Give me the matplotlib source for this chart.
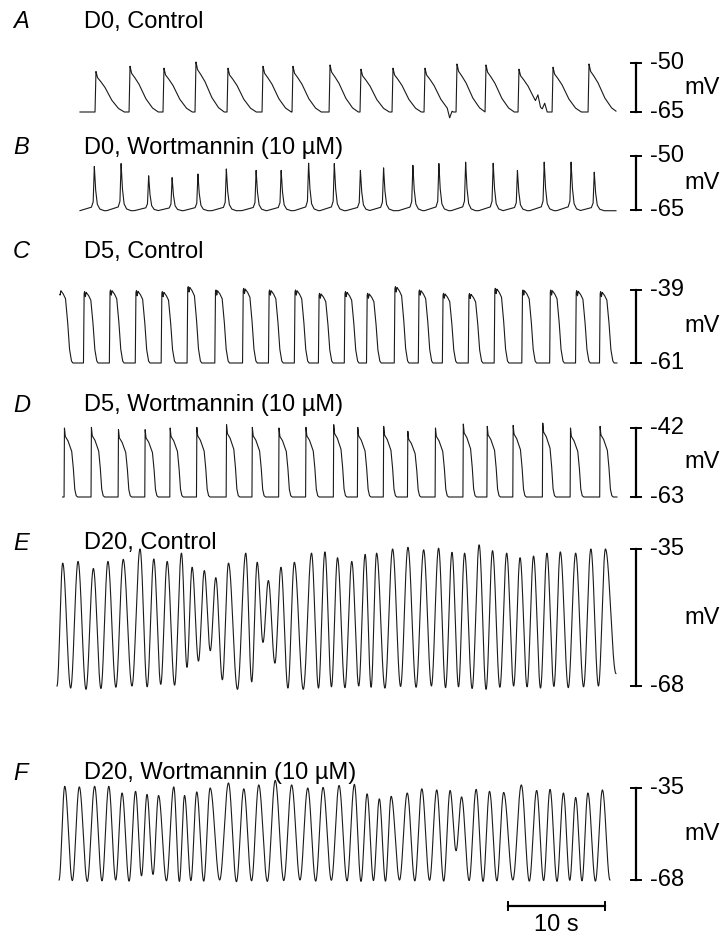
import numpy as np
import matplotlib
matplotlib.use("Agg")
import matplotlib.pyplot as plt

plt.rcParams['font.family'] = ['Liberation Sans', 'DejaVu Sans']

# ---------------- data (times in s, potentials in mV) ----------------
A_peak_t = [4.74, 8.25, 11.75, 15.05, 18.35, 21.96, 25.05, 28.87, 32.06, 35.36,
            38.66, 41.96, 44.95, 48.35, 51.86, 55.57]
A_peak_mv = [-52.6, -51.0, -51.6, -49.7, -51.6, -51.0, -51.0, -50.6, -51.9, -51.6,
             -51.6, -50.3, -50.6, -51.9, -51.3, -50.3]
A_extra_t = [41.2, 50.3, 51.0]
A_extra_mv = [-67.5, -62.3, -62.8]
A_base = -65.0

B_peak_t = [4.57, 7.33, 10.17, 12.59, 15.25, 18.18, 21.25, 23.83, 26.66, 29.31,
            32.00, 34.39, 37.41, 40.09, 42.85, 45.69, 48.19, 50.95, 53.72, 56.11]
B_peak_mv = [-52.9, -52.1, -55.5, -56.0, -55.0, -53.6, -54.0, -54.0, -52.0, -52.1,
             -54.0, -53.3, -52.6, -52.1, -51.7, -52.0, -54.0, -51.7, -51.7, -54.5]
B_base = -65.2

C_up_t = [0.90, 3.51, 6.18, 8.85, 11.52, 14.19, 17.05, 19.91, 22.58, 25.25, 27.73,
          30.40, 32.69, 35.55, 38.03, 40.51, 43.18, 45.85, 48.70, 51.57, 54.24, 56.71]
C_top_mv = [-39.0, -39.5, -39.0, -39.2, -39.5, -38.0, -39.0, -38.5, -39.0, -39.0, -40.0,
            -39.5, -40.0, -38.0, -39.0, -40.0, -40.1, -38.5, -39.0, -39.0, -39.2, -39.5]
C_low = -61.0

D_up_t = [1.49, 4.27, 7.06, 9.81, 12.39, 15.14, 18.20, 20.86, 23.61, 26.39, 29.25,
          31.73, 34.40, 36.89, 39.74, 42.61, 45.08, 47.75, 50.80, 53.66, 56.71]
D_peak_mv = [-42.0, -41.8, -42.5, -42.5, -42.0, -41.8, -41.0, -41.8, -42.0, -41.8, -41.0,
             -41.8, -41.5, -43.0, -42.0, -40.8, -41.5, -41.2, -40.5, -42.0, -41.5]
D_low = -63.0

E_peak_t = [1.31, 2.89, 4.47, 5.97, 7.55, 9.28, 10.70, 12.08, 13.55, 14.65,
            15.91, 17.09, 18.40, 20.18, 21.36, 22.51, 23.81, 25.19, 26.96, 28.34,
            29.64, 31.11, 32.49, 33.67, 35.32, 36.90, 38.52, 40.06, 41.44, 42.74,
            44.24, 45.62, 47.08, 48.46, 49.85, 51.23, 52.61, 54.19, 55.76, 57.26]
E_peak_mv = [-38.4, -38.0, -39.7, -38.0, -37.5, -35.0, -37.4, -38.0, -36.0, -39.4,
             -40.2, -41.9, -38.4, -36.0, -38.2, -42.6, -39.4, -38.2, -36.0, -35.7,
             -37.1, -38.0, -36.3, -36.0, -35.0, -34.6, -35.2, -34.8, -35.8, -36.0,
             -34.0, -35.4, -36.0, -37.1, -36.7, -36.0, -35.7, -36.0, -35.0, -35.0]
E_trough_mv = [-68.5, -68.8, -68.6, -68.3, -68.0, -68.2, -67.6, -67.8, -63.5, -62.0,
               -59.5, -66.5, -68.8, -67.0, -57.5, -62.5, -68.5, -68.8, -68.5, -68.2,
               -68.4, -68.0, -68.3, -68.5, -68.1, -68.3, -68.0, -68.4, -68.2, -68.6,
               -68.8, -68.3, -68.0, -68.2, -68.5, -68.1, -68.4, -68.2, -68.0]

F_peak_t = [1.52, 3.02, 4.60, 6.06, 7.43, 8.82, 10.00, 11.19, 12.76, 13.87,
            15.13, 16.51, 18.40, 19.98, 21.52, 23.22, 24.91, 26.57, 28.15, 29.80,
            31.38, 32.69, 33.95, 35.17, 36.83, 38.33, 39.87, 41.25, 42.43, 43.93,
            45.31, 46.77, 48.59, 50.17, 51.55, 52.93, 54.19, 55.45, 56.95]
F_peak_mv = [-34.4, -34.6, -34.4, -34.4, -36.8, -36.2, -37.3, -37.7, -34.6, -37.7,
             -36.4, -35.0, -33.2, -35.3, -33.9, -32.3, -33.9, -35.0, -34.8, -34.1,
             -33.7, -37.1, -38.9, -38.0, -36.8, -35.3, -35.7, -35.9, -38.2, -35.5,
             -36.2, -36.6, -33.9, -35.9, -35.5, -36.8, -38.4, -36.8, -35.7]
F_trough_mv = [-68.2, -68.5, -68.3, -68.0, -68.4, -66.5, -66.0, -68.3, -68.5, -68.2,
               -68.4, -68.0, -68.6, -68.3, -68.5, -68.2, -68.0, -68.4, -68.1, -68.3,
               -68.5, -68.2, -68.4, -68.0, -68.3, -68.1, -68.4, -57.5, -68.2, -68.5,
               -68.3, -68.0, -68.4, -68.2, -68.5, -68.1, -68.3, -68.4]

panel_letters = ['A', 'B', 'C', 'D', 'E', 'F']
panel_titles = ['D0, Control', 'D0, Wortmannin (10 \u00b5M)', 'D5, Control',
                'D5, Wortmannin (10 \u00b5M)', 'D20, Control', 'D20, Wortmannin (10 \u00b5M)']
bar_top_mv = [-50, -50, -39, -42, -35, -35]
bar_bot_mv = [-65, -65, -61, -63, -68, -68]
trace_span = [(3.09, 58.35), (3.09, 58.35), (1.03, 58.45), (1.30, 58.45),
              (0.72, 58.35), (0.93, 57.73)]
time_bar_s = 10

# ---------------- layout (pixels) ----------------
W, H = 725, 940
X0 = 50.0       # pixel of t = 0
PXS = 9.7       # pixels per second
bar_top_px = [63, 156, 290, 428, 549, 788]
bar_bot_px = [112, 210, 363, 497, 686, 880]
label_y_px = [22, 148, 252, 405, 543, 773]
FS = 17

fig = plt.figure(figsize=(W / 100, H / 100), dpi=100)
fig.patch.set_facecolor('white')


def t_of_px(px):
    return (px - X0) / PXS


def template(t, events, amps, tau, f):
    out = np.zeros_like(t)
    for te, a in zip(events, amps):
        out = np.maximum(out, a * np.interp(t - te, tau, f, left=0, right=0))
    return out


def cosine_path(tk, vk, t):
    tk = np.asarray(tk)
    vk = np.asarray(vk)
    i = np.clip(np.searchsorted(tk, t, side='right') - 1, 0, len(tk) - 2)
    frac = np.clip((t - tk[i]) / (tk[i + 1] - tk[i]), 0, 1)
    w = (1 - np.cos(np.pi * frac)) / 2
    return vk[i] + (vk[i + 1] - vk[i]) * w


def osc_trace(t0, t1, pk_t, pk_v, tr_v, v_start, v_end):
    tk = [t0]
    vk = [v_start]
    for k in range(len(pk_t)):
        tk.append(pk_t[k]); vk.append(pk_v[k])
        if k < len(pk_t) - 1:
            tk.append(pk_t[k] + 0.52 * (pk_t[k + 1] - pk_t[k])); vk.append(tr_v[k])
    tk.append(t1); vk.append(v_end)
    t = np.arange(t0, t1, 0.005)
    return t, cosine_path(tk, vk, t)


traces = []
# A
t0, t1 = trace_span[0]
tA = np.arange(t0, t1, 0.005)
vA = A_base + template(tA, A_peak_t, np.array(A_peak_mv) - A_base,
                       [-0.1, 0, 0.15, 0.4, 0.9, 1.6, 2.3, 2.9],
                       [0, 1, 0.85, 0.78, 0.62, 0.3, 0.09, 0])
for te, v in zip(A_extra_t, A_extra_mv):
    vA += (v - A_base) * np.interp(tA - te, [-0.25, 0, 0.25], [0, 1, 0], left=0, right=0)
traces.append((tA, vA))
# B
t0, t1 = trace_span[1]
tB = np.arange(t0, t1, 0.005)
vB = B_base + template(tB, B_peak_t, np.array(B_peak_mv) - B_base,
                       [-1.5, -0.3, -0.12, 0, 0.12, 0.3, 0.55, 1.0],
                       [0, 0.08, 0.2, 1, 0.5, 0.15, 0.04, 0])
traces.append((tB, vB))
# C
t0, t1 = trace_span[2]
tC = np.arange(t0, t1, 0.005)
vC = C_low + template(tC, C_up_t, np.array(C_top_mv) - C_low,
                      [-0.06, 0, 0.06, 0.14, 0.22, 0.45, 0.7, 0.9, 1.1, 1.3, 1.45],
                      [0, 0.97, 1.0, 0.93, 0.99, 0.95, 0.88, 0.6, 0.2, 0.03, 0])
traces.append((tC, vC))
# D
t0, t1 = trace_span[3]
tD = np.arange(t0, t1, 0.005)
vD = D_low + template(tD, D_up_t, np.array(D_peak_mv) - D_low,
                      [-0.04, 0, 0.08, 0.35, 0.75, 0.9, 1.05, 1.2, 1.35],
                      [0, 1, 0.88, 0.82, 0.66, 0.45, 0.12, 0.02, 0])
traces.append((tD, vD))
# E, F
traces.append(osc_trace(*trace_span[4], E_peak_t, E_peak_mv, E_trough_mv, -68.0, -65.0))
traces.append(osc_trace(*trace_span[5], F_peak_t, F_peak_mv, F_trough_mv, -68.0, -68.0))

bar_t = t_of_px(636)
tick_half = 5 / PXS
num_t = t_of_px(650)
mv_t = t_of_px(684)

axes = []
for k in range(6):
    ytp, ybp = bar_top_px[k], bar_bot_px[k]
    ax = fig.add_axes([0, 1 - ybp / H, 1, (ybp - ytp) / H])
    ax.set_xlim(t_of_px(0), t_of_px(W))
    ax.set_ylim(bar_bot_mv[k], bar_top_mv[k])
    ax.axis('off')
    t, v = traces[k]
    ax.plot(t, v, color='#1a1a1a', lw=0.8, clip_on=False)
    vt, vb = bar_top_mv[k], bar_bot_mv[k]
    ax.plot([bar_t, bar_t], [vb, vt], color='black', lw=1.6, clip_on=False)
    for vv in (vt, vb):
        ax.plot([bar_t - tick_half, bar_t + tick_half], [vv, vv], color='black',
                lw=1.4, clip_on=False)
    ax.text(num_t, vt, f'{vt}', fontsize=FS, ha='left', va='center')
    ax.text(num_t, vb, f'{vb}', fontsize=FS, ha='left', va='center')
    ax.text(mv_t, (vt + vb) / 2, 'mV', fontsize=FS, ha='left', va='center')
    fig.text(13 / W, 1 - label_y_px[k] / H, panel_letters[k], fontsize=FS,
             style='italic', ha='left', va='center')
    fig.text(84 / W, 1 - label_y_px[k] / H, panel_titles[k], fontsize=FS,
             ha='left', va='center')
    axes.append(ax)

# time scale bar (under panel F)
axF = axes[5]
px_per_mv = (bar_bot_px[5] - bar_top_px[5]) / (bar_top_mv[5] - bar_bot_mv[5])
v_bar = bar_bot_mv[5] - (906 - bar_bot_px[5]) / px_per_mv
v_tick = 4 / px_per_mv
tb0 = t_of_px(508)
tb1 = tb0 + time_bar_s
axF.plot([tb0, tb1], [v_bar, v_bar], color='black', lw=1.6, clip_on=False)
for tt in (tb0, tb1):
    axF.plot([tt, tt], [v_bar - v_tick, v_bar + v_tick], color='black', lw=1.4,
             clip_on=False)
fig.text(((tb0 + tb1) / 2 * PXS + X0) / W, 1 - 925 / H, f'{time_bar_s} s',
         fontsize=FS, ha='center', va='center')

fig.savefig('out.png', dpi=100, facecolor='white')
